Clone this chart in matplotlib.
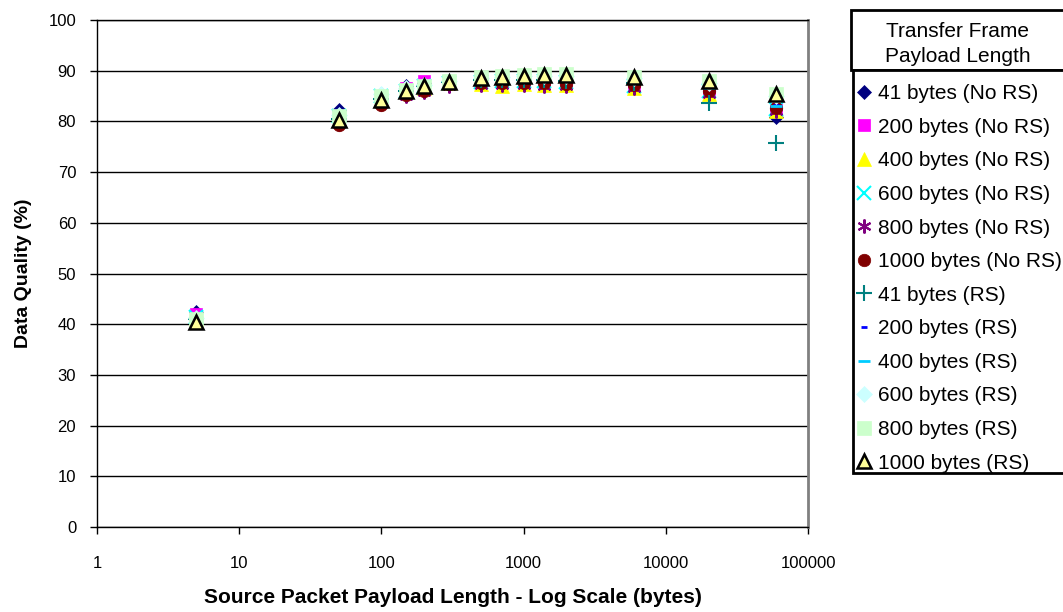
import numpy as np
import matplotlib
matplotlib.use("Agg")
import matplotlib.pyplot as plt
from matplotlib.patches import Rectangle

plt.rcParams['font.family'] = ['Liberation Sans', 'DejaVu Sans']

# source packet payload length (bytes)
packet_len = [5, 50, 100, 150, 200, 300, 500, 700, 1000, 1400, 2000, 6000, 20000, 60000]

# data quality (%) per transfer frame payload length
q_41_nors = [42.5, 82.2, 85.5, 87.0, 87.5, 88.0, 88.3, 88.3, 88.4, 88.4, 88.2, 87.5, 86.5, 80.8]
q_200_nors = [42.0, 81.0, 85.0, 86.5, 88.0, 87.5, 88.0, 88.0, 88.0, 88.0, 87.8, 87.0, 86.0, 82.5]
q_400_nors = [41.0, 80.5, 84.5, 86.0, 86.5, 87.5, 87.3, 87.0, 87.3, 87.2, 87.2, 86.5, 85.5, 82.0]
q_600_nors = [41.5, 81.0, 85.0, 86.0, 87.0, 87.5, 87.8, 88.0, 88.0, 88.0, 87.8, 87.0, 86.0, 82.5]
q_800_nors = [41.0, 79.5, 83.5, 85.0, 85.8, 87.0, 87.2, 87.2, 87.2, 87.0, 87.0, 86.5, 85.5, 82.0]
q_1000_nors = [41.0, 79.3, 83.3, 85.3, 86.0, 87.3, 87.6, 87.6, 87.6, 87.6, 87.4, 87.2, 85.9, 82.6]
q_41_rs = [41.0, 80.5, 84.5, 86.0, 87.0, 87.8, 88.2, 88.2, 88.2, 88.2, 88.0, 87.5, 83.7, 75.7]
q_200_rs = [41.5, 81.5, 85.5, 87.0, 87.5, 88.0, 88.3, 88.5, 88.5, 88.5, 88.3, 87.5, 86.5, 83.3]
q_400_rs = [41.0, 81.0, 85.0, 86.5, 87.3, 88.0, 88.3, 88.3, 88.3, 88.3, 88.3, 87.7, 86.5, 83.0]
q_600_rs = [41.2, 81.2, 85.5, 86.5, 87.2, 88.0, 88.5, 88.8, 89.0, 89.0, 89.0, 88.5, 87.5, 85.0]
q_800_rs = [41.0, 81.0, 85.0, 86.2, 87.0, 88.0, 88.7, 89.0, 89.2, 89.3, 89.3, 88.8, 88.0, 85.5]
q_1000_rs = [40.5, 80.2, 84.2, 86.0, 86.9, 87.8, 88.5, 88.8, 89.0, 89.2, 89.2, 88.7, 88.0, 85.5]

labels = ['41 bytes (No RS)', '200 bytes (No RS)', '400 bytes (No RS)', '600 bytes (No RS)',
          '800 bytes (No RS)', '1000 bytes (No RS)', '41 bytes (RS)', '200 bytes (RS)',
          '400 bytes (RS)', '600 bytes (RS)', '800 bytes (RS)', '1000 bytes (RS)']
series = [q_41_nors, q_200_nors, q_400_nors, q_600_nors, q_800_nors, q_1000_nors,
          q_41_rs, q_200_rs, q_400_rs, q_600_rs, q_800_rs, q_1000_rs]

# marker, size, face, edge, edge width
styles = [
    ('D', 7, '#000080', '#000080', 0.5),
    ('s', 8, '#FF00FF', '#FF00FF', 0.5),
    ('^', 10, '#FFFF00', '#FFFF00', 0.5),
    ('x', 10, '#00FFFF', '#00FFFF', 1.5),
    ((6, 2, 0), 10, '#800080', '#800080', 1.5),
    ('o', 9, '#800000', '#800000', 0.5),
    ('+', 11, '#008080', '#008080', 1.5),
    ('_', 4, '#0000FF', '#0000FF', 2.0),
    ('_', 8, '#00CCFF', '#00CCFF', 2.0),
    ('D', 8, '#CCFFFF', '#CCFFFF', 0.5),
    ('s', 10, '#CCFFCC', '#CCFFCC', 0.5),
    ('^', 10, '#FFFF99', '#000000', 1.8),
]

fig = plt.figure(figsize=(10.63, 6.12), dpi=100)
ax = fig.add_axes([97 / 1063, 1 - 527 / 612, 711 / 1063, 507 / 612])

handles = []
for vals, lab, (mk, ms, fc, ec, mew) in zip(series, labels, styles):
    h, = ax.plot(packet_len, vals, linestyle='none', marker=mk, markersize=ms,
                 markerfacecolor=fc, markeredgecolor=ec, markeredgewidth=mew,
                 label=lab, zorder=3)
    handles.append(h)

ax.set_xscale('log')
ax.set_xlim(1, 100000)
ax.set_ylim(0, 100)
ax.set_yticks(np.arange(0, 101, 10))
ax.set_xticks([1, 10, 100, 1000, 10000, 100000])
ax.set_xticklabels(['1', '10', '100', '1000', '10000', '100000'])
ax.xaxis.set_minor_locator(matplotlib.ticker.NullLocator())
ax.tick_params(axis='both', labelsize=12, length=5, width=1, direction='out', colors='black')
ax.tick_params(axis='x', pad=16)
ax.tick_params(axis='y', pad=10)
ax.yaxis.grid(True, color='black', linewidth=1)
ax.set_axisbelow(True)

for side in ['left', 'bottom', 'top']:
    ax.spines[side].set_color('black')
    ax.spines[side].set_linewidth(1)
ax.spines['right'].set_color('#808080')
ax.spines['right'].set_linewidth(2)

ax.set_xlabel('Source Packet Payload Length - Log Scale (bytes)', fontsize=15, fontweight='bold', labelpad=12)
ax.set_ylabel('Data Quality (%)', fontsize=14, fontweight='bold', labelpad=12)

# legend title box
W, H = 1063.0, 612.0
fig.patches.append(Rectangle((851 / W, 1 - 70 / H), 220 / W, 60 / H, transform=fig.transFigure,
                             facecolor='white', edgecolor='black', linewidth=2, zorder=5))
fig.text(958 / W, 1 - 44 / H, 'Transfer Frame\nPayload Length', ha='center', va='center',
         fontsize=15, linespacing=1.4, zorder=6)
# legend items box
fig.patches.append(Rectangle((853 / W, 1 - 473 / H), 220 / W, 403 / H, transform=fig.transFigure,
                             facecolor='white', edgecolor='black', linewidth=2, zorder=5))
leg = fig.legend(handles=handles, loc='upper left', bbox_to_anchor=(853 / W, 1 - 80 / H),
                 frameon=False, fontsize=15, handlelength=0.7, handletextpad=0.3,
                 labelspacing=0.70, borderpad=0.2, borderaxespad=0, numpoints=1)
leg.set_zorder(7)

fig.savefig('out.png', dpi=100)
